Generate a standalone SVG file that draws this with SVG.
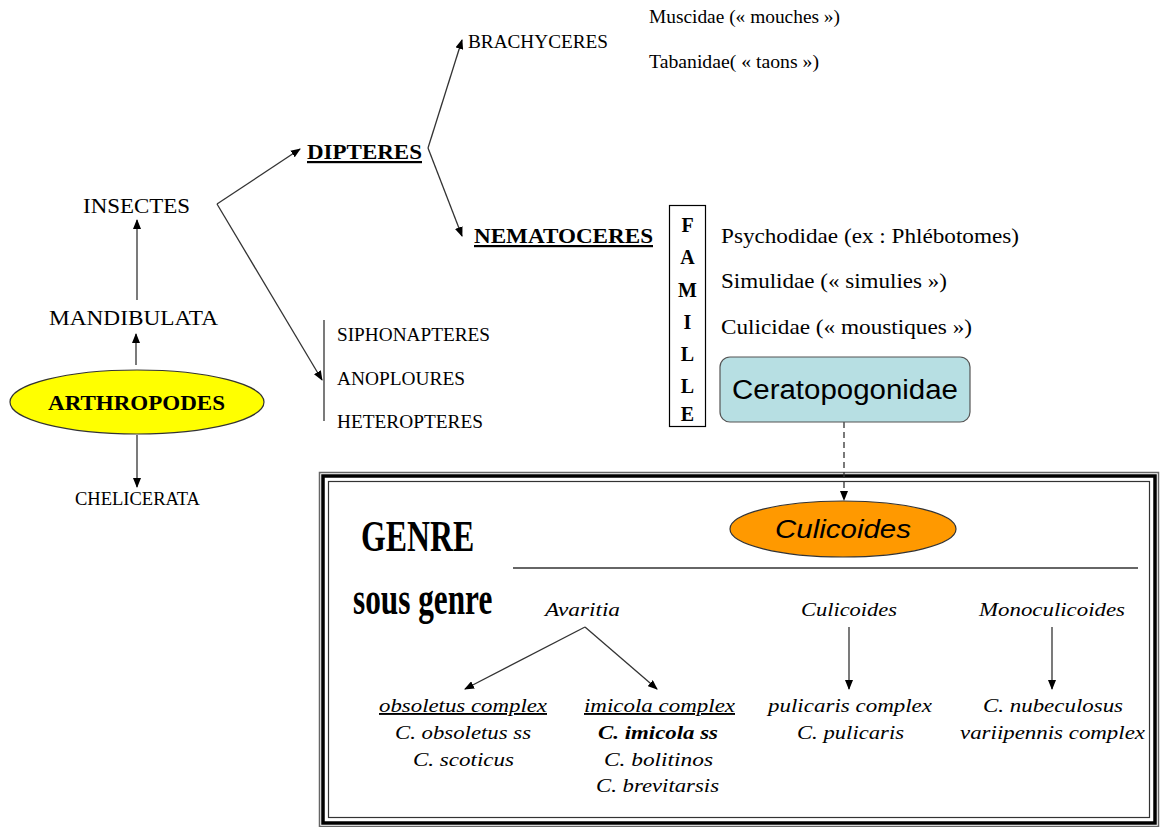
<svg xmlns="http://www.w3.org/2000/svg" width="1169" height="827" viewBox="0 0 1169 827">
<defs>
<marker id="ah" markerWidth="10" markerHeight="8" refX="9" refY="4" orient="auto" markerUnits="userSpaceOnUse"><path d="M0,0 L10,4 L0,8 z" fill="#000"/></marker>
<style>
.t{font-family:"Liberation Serif",serif;fill:#000}
.s15{font-size:18px}
.s18{font-size:22px}
.b{font-weight:bold}
.i{font-style:italic;font-size:19px;text-anchor:middle}
.c{stroke:#333;stroke-width:1.3;fill:none}
.g{font-family:"Liberation Serif",serif;font-weight:bold}
</style>
</defs>
<rect width="1169" height="827" fill="#fff"/>
<g id="frame">
<rect x="319.5" y="472.5" width="839" height="354" fill="none" stroke="#666" stroke-width="1.5"/>
<rect x="323" y="476" width="832" height="347" fill="none" stroke="#000" stroke-width="3.5"/>
<rect x="328.5" y="481.5" width="821" height="336" fill="none" stroke="#333" stroke-width="1.2"/>
</g>
<g id="connectors">
<line class="c" x1="136" y1="365" x2="136" y2="334" marker-end="url(#ah)"/>
<line class="c" x1="137" y1="300" x2="137" y2="220" marker-end="url(#ah)"/>
<line class="c" x1="137" y1="435" x2="137" y2="487" marker-end="url(#ah)"/>
<line class="c" x1="217" y1="204" x2="300" y2="149" marker-end="url(#ah)"/>
<line class="c" x1="217" y1="204" x2="322" y2="380" marker-end="url(#ah)"/>
<line class="c" x1="428" y1="148" x2="462" y2="40" marker-end="url(#ah)"/>
<line class="c" x1="428" y1="148" x2="462" y2="236" marker-end="url(#ah)"/>
<line class="c" x1="324" y1="320" x2="324" y2="421"/>
<line stroke="#333" stroke-width="1.3" stroke-dasharray="6,4" x1="844" y1="422" x2="844" y2="500" marker-end="url(#ah)"/>
<line class="c" x1="513" y1="568" x2="1138" y2="568"/>
<line class="c" x1="585" y1="627" x2="465" y2="689" marker-end="url(#ah)"/>
<line class="c" x1="585" y1="627" x2="657" y2="689" marker-end="url(#ah)"/>
<line class="c" x1="849" y1="627" x2="849" y2="689" marker-end="url(#ah)"/>
<line class="c" x1="1052" y1="627" x2="1052" y2="689" marker-end="url(#ah)"/>
</g>
<g id="arthropodes">
<ellipse cx="137" cy="402" rx="127" ry="32" fill="#ffff00" stroke="#333" stroke-width="1.2"/>
<text class="t b" x="48" y="410" font-size="22" textLength="177" lengthAdjust="spacingAndGlyphs">ARTHROPODES</text>
</g>
<g id="mandibulata"><text class="t s18" x="49" y="325" textLength="169" lengthAdjust="spacingAndGlyphs">MANDIBULATA</text></g>
<g id="insectes"><text class="t s18" x="83" y="213" textLength="107" lengthAdjust="spacingAndGlyphs">INSECTES</text></g>
<g id="chelicerata"><text class="t s15" x="75" y="505" textLength="125" lengthAdjust="spacingAndGlyphs">CHELICERATA</text></g>
<g id="dipteres"><text class="t b s18" x="307" y="159" textLength="115" lengthAdjust="spacingAndGlyphs" text-decoration="underline">DIPTERES</text></g>
<g id="brachyceres"><text class="t s15" x="468" y="48" textLength="140" lengthAdjust="spacingAndGlyphs">BRACHYCERES</text></g>
<g id="muscidae"><text class="t s15" x="649" y="23" textLength="191" lengthAdjust="spacingAndGlyphs">Muscidae (« mouches »)</text></g>
<g id="tabanidae"><text class="t s15" x="649" y="68" textLength="170" lengthAdjust="spacingAndGlyphs">Tabanidae( « taons »)</text></g>
<g id="nematoceres"><text class="t b s18" x="474" y="243" textLength="179" lengthAdjust="spacingAndGlyphs" text-decoration="underline">NEMATOCERES</text></g>
<g id="famille">
<rect x="669.5" y="205.5" width="36" height="221" fill="#fff" stroke="#000" stroke-width="1.2"/>
<g class="t b" font-size="20" text-anchor="middle">
<text x="687.5" y="232">F</text><text x="687.5" y="264">A</text><text x="687.5" y="297">M</text><text x="687.5" y="329">I</text><text x="687.5" y="361">L</text><text x="687.5" y="393">L</text><text x="687.5" y="421">E</text>
</g>
</g>
<g id="psychodidae"><text class="t s18" x="721" y="243" textLength="298" lengthAdjust="spacingAndGlyphs">Psychodidae (ex : Phlébotomes)</text></g>
<g id="simulidae"><text class="t s18" x="721" y="288" textLength="226" lengthAdjust="spacingAndGlyphs">Simulidae (« simulies »)</text></g>
<g id="culicidae"><text class="t s18" x="721" y="334" textLength="251" lengthAdjust="spacingAndGlyphs">Culicidae (« moustiques »)</text></g>
<g id="ceratopogonidae">
<rect x="720" y="357" width="250" height="65" rx="10" fill="#b7dfe3" stroke="#555" stroke-width="1.2"/>
<text x="732" y="399" font-family="Liberation Sans,Arial,sans-serif" font-size="27" textLength="226" lengthAdjust="spacingAndGlyphs">Ceratopogonidae</text>
</g>
<g id="siphonapteres"><text class="t s15" x="337" y="341" textLength="153" lengthAdjust="spacingAndGlyphs">SIPHONAPTERES</text></g>
<g id="anoploures"><text class="t s15" x="337" y="385" textLength="128" lengthAdjust="spacingAndGlyphs">ANOPLOURES</text></g>
<g id="heteropteres"><text class="t s15" x="337" y="428" textLength="146" lengthAdjust="spacingAndGlyphs">HETEROPTERES</text></g>
<g id="culicoides-genre">
<ellipse cx="843" cy="529" rx="113" ry="28" fill="#ff9900" stroke="#333" stroke-width="1.2"/>
<text x="775" y="538" font-family="Liberation Sans,Arial,sans-serif" font-style="italic" font-size="25" textLength="136" lengthAdjust="spacingAndGlyphs">Culicoides</text>
</g>
<g id="genre"><text class="g" transform="translate(361,551) scale(0.724,1)" x="0" y="0" font-size="44">GENRE</text></g>
<g id="sous-genre"><text class="g" transform="translate(353,614) scale(0.68,1)" x="0" y="0" font-size="46">sous genre</text></g>
<g id="avaritia"><text class="t i" x="582.5" y="616" textLength="75" lengthAdjust="spacingAndGlyphs">Avaritia</text></g>
<g id="culicoides-sg"><text class="t i" x="849" y="616" textLength="96" lengthAdjust="spacingAndGlyphs">Culicoides</text></g>
<g id="monoculicoides"><text class="t i" x="1052" y="616" textLength="146" lengthAdjust="spacingAndGlyphs">Monoculicoides</text></g>
<g id="obsoletus">
<text class="t i" x="463" y="712" textLength="168" lengthAdjust="spacingAndGlyphs" text-decoration="underline">obsoletus complex</text>
<text class="t i" x="463" y="739" textLength="136" lengthAdjust="spacingAndGlyphs">C. obsoletus ss</text>
<text class="t i" x="463.5" y="766" textLength="101" lengthAdjust="spacingAndGlyphs">C. scoticus</text>
</g>
<g id="imicola">
<text class="t i" x="659.5" y="712" textLength="151" lengthAdjust="spacingAndGlyphs" text-decoration="underline">imicola complex</text>
<text class="t i" x="658" y="739" font-weight="bold" textLength="120" lengthAdjust="spacingAndGlyphs">C. imicola ss</text>
<text class="t i" x="658.5" y="766" textLength="109" lengthAdjust="spacingAndGlyphs">C. bolitinos</text>
<text class="t i" x="657.5" y="792" textLength="123" lengthAdjust="spacingAndGlyphs">C. brevitarsis</text>
</g>
<g id="pulicaris">
<text class="t i" x="850" y="712" textLength="164" lengthAdjust="spacingAndGlyphs">pulicaris complex</text>
<text class="t i" x="850.5" y="739" textLength="107" lengthAdjust="spacingAndGlyphs">C. pulicaris</text>
</g>
<g id="nubeculosus">
<text class="t i" x="1053" y="712" textLength="140" lengthAdjust="spacingAndGlyphs">C. nubeculosus</text>
<text class="t i" x="1052.5" y="739" textLength="185" lengthAdjust="spacingAndGlyphs">variipennis complex</text>
</g>
</svg>
